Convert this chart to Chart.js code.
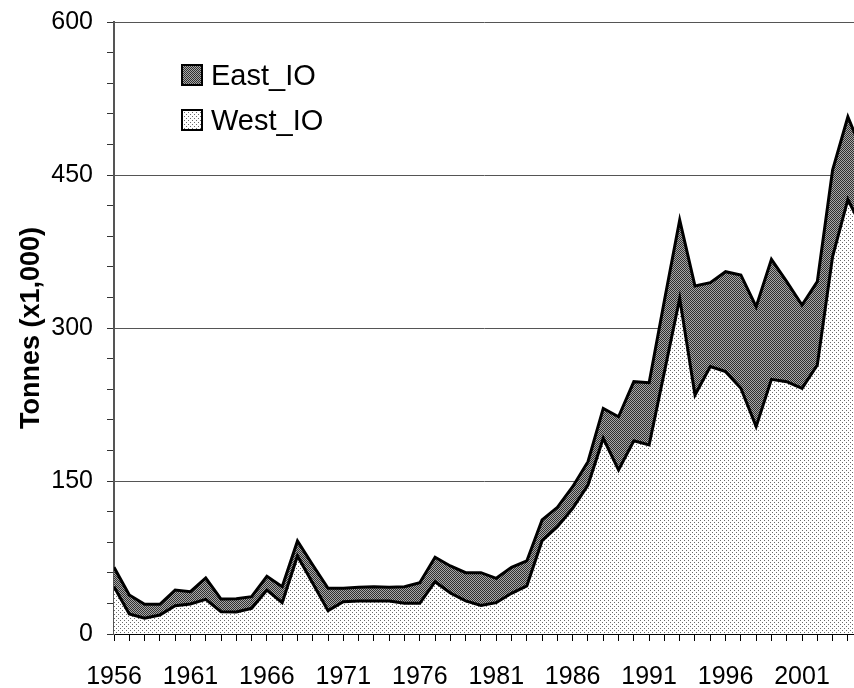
<!DOCTYPE html>
<html>
<head>
<meta charset="utf-8">
<script src="https://cdn.jsdelivr.net/npm/chart.js@4/dist/chart.umd.min.js"></script>
<style>
  html, body { margin: 0; padding: 0; background: #ffffff; }
  #wrap { width: 854px; height: 688px; }
</style>
</head>
<body>
<div id="wrap"><canvas id="c" width="854" height="688"></canvas></div>
<script>
// ---- data ----
const years = [1956,1957,1958,1959,1960,1961,1962,1963,1964,1965,
               1966,1967,1968,1969,1970,1971,1972,1973,1974,1975,
               1976,1977,1978,1979,1980,1981,1982,1983,1984,1985,
               1986,1987,1988,1989,1990,1991,1992,1993,1994,1995,
               1996,1997,1998,1999,2000,2001,2002,2003,2004,2005];
const westIO = [46.4,19.6,15.4,18.6,27.8,29.4,34.0,21.9,21.6,25.2,
                43.1,30.7,76.5,49.7,22.9,31.7,32.4,32.4,32.4,30.1,
                30.1,51.3,40.2,32.5,28.0,30.7,39.9,47.1,91.5,105.2,
                123.2,146,191.8,160.8,189.5,185.3,257,329.1,234.3,262.1,
                257.2,240.9,203.3,249.7,247.4,240.9,263.7,370,426,396];
const eastIO = [19.0,18.6,13.7,10.5,15.3,12.1,20.9,12.4,13.0,11.4,
                13.4,15.7,14.7,17.9,21.9,13.1,13.4,14.0,13.4,16.3,
                20.2,23.9,26.5,27.6,32.1,23.9,25.5,24.5,20.3,19.0,
                21.2,22.9,29.4,52.2,57.9,61.1,70,76.8,106.9,82.3,
                98.0,111.1,117.6,117.6,98.0,81.6,81.7,84.9,81,75];
const yTicksMajor = [0,150,300,450,600];
const xLabelYears = [1956,1961,1966,1971,1976,1981,1986,1991,1996,2001];
const seriesNames = ['East_IO','West_IO'];
const yTitle = 'Tonnes (x1,000)';

// ---- fill patterns ----
function makePattern(size, bg, dots) {
  const c = document.createElement('canvas');
  c.width = size; c.height = size;
  const g = c.getContext('2d');
  g.fillStyle = bg; g.fillRect(0,0,size,size);
  dots.forEach(d => { g.fillStyle = d[2]; g.fillRect(d[0], d[1], 1, 1); });
  return g.createPattern(c, 'repeat');
}
const eastPattern = makePattern(2, '#a8a8a8', [[0,0,'#303030'],[1,1,'#303030']]);
const westPattern = makePattern(4, '#ffffff', [[0,0,'#6a6a6a'],[2,2,'#6a6a6a']]);

const FONT = '"Liberation Sans", Arial, Helvetica, sans-serif';

const legendPlugin = {
  id: 'insideLegend',
  afterDraw(chart) {
    const ctx = chart.ctx;
    const items = [
      {name: seriesNames[0], pat: eastPattern, y: 65},
      {name: seriesNames[1], pat: westPattern, y: 110}
    ];
    ctx.save();
    items.forEach(it => {
      ctx.fillStyle = it.pat;
      ctx.fillRect(182, it.y, 20, 20);
      ctx.lineWidth = 2;
      ctx.strokeStyle = '#000';
      ctx.strokeRect(182, it.y, 20, 20);
      ctx.fillStyle = '#000';
      ctx.font = '29px ' + FONT;
      ctx.textBaseline = 'alphabetic';
      ctx.textAlign = 'left';
      ctx.fillText(it.name, 211, it.y + 20);
    });
    ctx.restore();
  }
};

new Chart(document.getElementById('c'), {
  type: 'line',
  data: {
    datasets: [
      {
        label: seriesNames[1],
        data: years.map((yr, i) => ({x: yr, y: westIO[i]})),
        backgroundColor: westPattern,
        borderColor: '#000',
        borderWidth: 3,
        fill: 'origin',
        pointRadius: 0,
        tension: 0
      },
      {
        label: seriesNames[0],
        data: years.map((yr, i) => ({x: yr, y: eastIO[i]})),
        backgroundColor: eastPattern,
        borderColor: '#000',
        borderWidth: 3,
        fill: '-1',
        pointRadius: 0,
        tension: 0
      }
    ]
  },
  options: {
    responsive: false,
    devicePixelRatio: 1,
    animation: false,
    layout: { padding: { top: 22, right: 0, bottom: 0, left: 0 } },
    plugins: { legend: { display: false }, tooltip: { enabled: false } },
    scales: {
      x: {
        type: 'linear',
        min: 1956,
        max: 2004.4,
        afterFit(s) { s.height = 54; s.paddingLeft = 0; s.paddingRight = 0; },
        border: { display: true, color: '#000', width: 2 },
        grid: { drawOnChartArea: false, drawTicks: true, tickLength: 7, tickColor: '#000', tickWidth: 1 },
        ticks: {
          stepSize: 1,
          autoSkip: false,
          includeBounds: false,
          maxRotation: 0,
          minRotation: 0,
          padding: 21,
          color: '#000',
          font: { family: FONT, size: 25 },
          callback: (v) => xLabelYears.includes(v) ? String(v) : ''
        }
      },
      y: {
        stacked: true,
        min: 0,
        max: 600,
        afterFit(s) { s.width = 114; s.paddingTop = 0; s.paddingBottom = 0; },
        border: { display: true, color: '#555', width: 2 },
        grid: {
          drawOnChartArea: true,
          tickLength: 7,
          tickColor: '#333',
          tickWidth: 1,
          lineWidth: 1,
          color: (c) => (c.tick && yTicksMajor.includes(c.tick.value) && c.tick.value !== 0) ? '#555' : 'rgba(0,0,0,0)'
        },
        ticks: {
          stepSize: 30,
          autoSkip: false,
          padding: 14,
          color: '#000',
          font: { family: FONT, size: 25 },
          callback: (v) => yTicksMajor.includes(v) ? String(v) : ''
        },
        title: {
          display: true,
          text: yTitle,
          color: '#000',
          font: { family: FONT, size: 27, weight: 'bold' },
          padding: { top: 15, bottom: 0 }
        }
      }
    }
  },
  plugins: [legendPlugin]
});
</script>
</body>
</html>
